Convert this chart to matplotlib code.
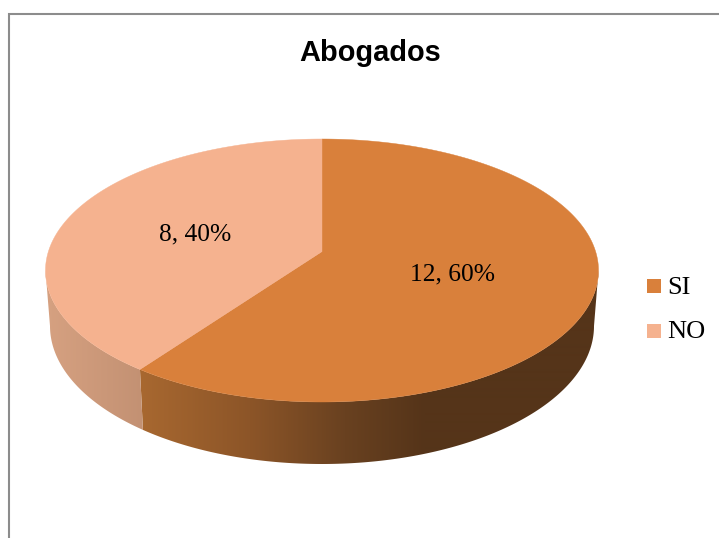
import numpy as np
import matplotlib
matplotlib.use("Agg")
import matplotlib.pyplot as plt
from matplotlib.patches import Polygon, Rectangle

title = "Abogados"
categories = ["SI", "NO"]
values = [12, 8]
percents = ["60%", "40%"]

W, H = 719, 538
top_color = {"SI": "#D9803B", "NO": "#F5B28F"}
wall_stops = {
    "SI": ([140, 250, 345, 425, 600],
           [(168, 104, 48), (140, 85, 40), (105, 65, 32), (85, 52, 25), (85, 52, 25)]),
    "NO": ([45, 143], [(214, 161, 129), (195, 145, 115)]),
}
label_pos = {"SI": (452, 274.5), "NO": (195, 234.5)}
legend_y = {"SI": 286, "NO": 331}

CX = 322.0
TOP = dict(a=276.5, cy=270.5, b=131.5)
BOT = dict(a=272.0, cy=326.0, b=138.0)
P = 0.144  # perspective shift of the pie centre


def project(theta, e):
    """theta clockwise from 12 o'clock, radians; projected circle -> ellipse."""
    u, v = np.sin(theta), np.cos(theta)
    d = 1 + P * v
    X = u * np.sqrt(1 - P ** 2) / d
    Y = (v + P) / d
    return CX + e["a"] * X, e["cy"] - e["b"] * Y


fig = plt.figure(figsize=(W / 100, H / 100), dpi=100, facecolor="white")
ax = fig.add_axes([0, 0, 1, 1])
ax.set_xlim(0, W)
ax.set_ylim(H, 0)
ax.axis("off")

ax.plot([8.5, 8.5, W], [H, 13.5, 13.5], color="#8C8C8C", lw=1.5,
        solid_joinstyle="miter", zorder=1)

fractions = np.cumsum([0] + values) / sum(values)
vis_start = np.arccos(-P)          # right extreme of the top ellipse
vis_end = 2 * np.pi - vis_start    # left extreme

for i, cat in enumerate(categories):
    a0 = 2 * np.pi * fractions[i]
    a1 = 2 * np.pi * fractions[i + 1]

    # side wall, only the visible part of the rim
    w0, w1 = max(a0, vis_start), min(a1, vis_end)
    th = np.linspace(w0, w1, 200)
    tx, ty = project(th, TOP)
    bx, by = project(th, BOT)
    poly = Polygon(np.r_[np.c_[tx, ty], np.c_[bx, by][::-1]], closed=True,
                   transform=ax.transData, fc="none", ec="none")
    ax.add_patch(poly)
    xs, cols = wall_stops[cat]
    grid = np.arange(0, W)
    rgb = np.stack([np.interp(grid, xs, [c[k] for c in cols]) for k in range(3)], axis=-1) / 255
    im = ax.imshow(rgb[None, :, :], extent=[0, W, H, 0], aspect="auto",
                   interpolation="bilinear", zorder=2)
    im.set_clip_path(poly)

    # top face
    th = np.linspace(a0, a1, 400)
    tx, ty = project(th, TOP)
    ax_, ay_ = CX, TOP["cy"] - TOP["b"] * P
    ax.add_patch(Polygon(np.r_[[[ax_, ay_]], np.c_[tx, ty]], closed=True,
                         fc=top_color[cat], ec=top_color[cat], lw=0.3, zorder=3))

    lx, ly = label_pos[cat]
    ax.text(lx, ly, f"{values[i]}, {percents[i]}", family="Liberation Serif",
            fontsize=18.4, ha="center", va="center", color="black", zorder=4)

    ax.add_patch(Rectangle((647, legend_y[cat] - 7), 14, 14, fc=top_color[cat],
                           ec="none", zorder=4))
    ax.text(667, legend_y[cat] + 1.5, cat, family="Liberation Serif", fontsize=19,
            ha="left", va="center", color="black", zorder=4)

ax.set_xlim(0, W)
ax.set_ylim(H, 0)
ax.text(370, 53, title, family="Liberation Sans", fontweight="bold", fontsize=20.9,
        ha="center", va="center", color="black", zorder=4)

fig.savefig("out.png", dpi=100, facecolor="white")
